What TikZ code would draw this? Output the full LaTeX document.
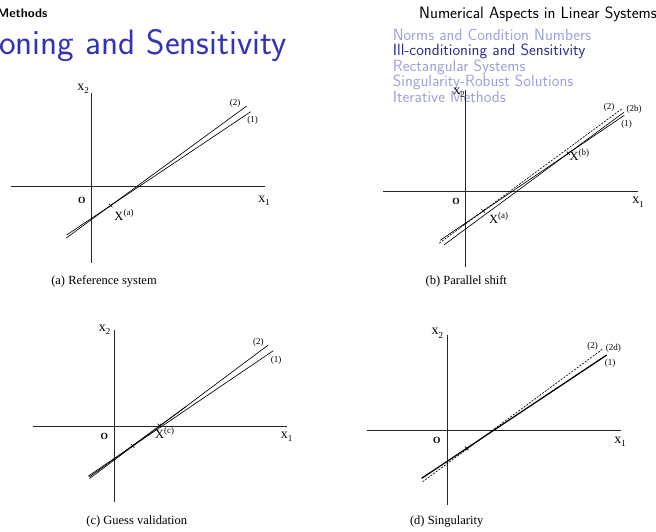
\documentclass[tikz,border=0pt]{standalone}
\usepackage{fontspec}
\newfontfamily\figfont{Liberation Serif}
\definecolor{struct}{RGB}{51,51,179}
\definecolor{cursec}{RGB}{45,45,150}
\definecolor{shadesec}{RGB}{160,160,216}
\tikzset{
  ax/.style={line width=0.75pt, black!85},
  ln/.style={line width=0.65pt},
  dl/.style={line width=0.65pt, dash pattern=on 2pt off 1.3pt},
  lab/.style={font=\figfont\fontsize{9}{9}\selectfont, inner sep=0pt},
  axl/.style={font=\figfont\fontsize{14}{14}\selectfont, inner sep=0pt},
  ptl/.style={font=\figfont\fontsize{12.5}{12}\selectfont, inner sep=0pt},
  captxt/.style={font=\figfont\fontsize{12.5}{14}\selectfont, inner sep=0pt},
  orig/.style={font=\figfont\bfseries\fontsize{9.5}{10}\selectfont, inner sep=0pt},
  toc/.style={font=\sffamily\fontsize{16.3}{16}\selectfont, inner sep=0pt, anchor=base west},
  cross/.pic={\draw[line width=0.6pt] (-1.8,-1.8)--(1.8,1.8) (-1.8,1.8)--(1.8,-1.8);}
}
\newcommand\sbs[1]{\raisebox{-3.5pt}{\fontsize{9}{9}\selectfont #1}}
\newcommand\sps[1]{\raisebox{5pt}{\fontsize{9}{9}\selectfont #1}}
\begin{document}
\begin{tikzpicture}[x=1pt,y=-1pt]
\useasboundingbox (0,0) rectangle (656,531);
% ---------- headline and title ----------
\node[anchor=base west, inner sep=0pt, font=\sffamily\bfseries\fontsize{12.5}{13}\selectfont] (hleft) at (-3,17.3) {Methods};
\node[anchor=base west, inner sep=0pt, font=\sffamily\fontsize{16.4}{16}\selectfont] (hright) at (419,18.3) {Numerical Aspects in Linear Systems};
\node[anchor=base west, inner sep=0pt, text=struct, font=\sffamily\fontsize{35.3}{38}\selectfont] (title) at (-1,54.5) {oning and Sensitivity};
\node[toc, text=shadesec] (s1) at (392.7,40) {Norms and Condition Numbers};
\node[toc, text=cursec] (s2) at (392.7,55.7) {Ill-conditioning and Sensitivity};
\node[toc, text=shadesec] (s3) at (392.7,71.2) {Rectangular Systems};
\node[toc, text=shadesec] (s4) at (392.7,86.7) {Singularity-Robust Solutions};
\node[toc, text=shadesec] (s5) at (392.7,102) {Iterative Methods};

% ---------- panel (a) ----------
\coordinate (aYt) at (91.7,92.7); \coordinate (aYb) at (91.7,262.7);
\coordinate (aXl) at (10.7,186.7); \coordinate (aXr) at (265,186.7);
\draw[ax] (aYt) -- (aYb);
\draw[ax] (aXl) -- (aXr);
\coordinate (aP) at (110.7,205.5);
\coordinate (a1s) at (66.5,235.1); \coordinate (a1e) at (250.7,111.7);
\coordinate (a2s) at (66,238.2);   \coordinate (a2e) at (246.7,106);
\draw[ln] (a1s) -- (a1e);
\draw[ln] (a2s) -- (a2e);
\pic at (aP) {cross};
\node[axl] (ax2) at (83,89) {x\sbs{2}};
\node[axl] (ax1) at (264,201) {x\sbs{1}};
\node[orig] (aO) at (81.7,200.5) {O};
\node[lab] (al2) at (235,103.5) {(2)};
\node[lab] (al1) at (252.7,120) {(1)};
\node[ptl] (aXa) at (124,214.5) {X\sps{(a)}};
\node[captxt] (acap) at (104,281) {(a) Reference system};

% ---------- panel (b) ----------
\coordinate (bYt) at (465.5,90); \coordinate (bYb) at (465.5,266.7);
\coordinate (bXl) at (383,191); \coordinate (bXr) at (638,191);
\draw[ax] (bYt) -- (bYb);
\draw[ax] (bXl) -- (bXr);
\coordinate (bPa) at (483.3,211); \coordinate (bPb) at (568.3,153.3);
\coordinate (b1s) at (440,240.4); \coordinate (b1e) at (624.3,115.3);
\coordinate (b2s) at (439.3,243.2); \coordinate (b2e) at (621.7,109);
\coordinate (b3s) at (444,244.9); \coordinate (b3e) at (624,112.3);
\draw[ln] (b1s) -- (b1e);
\draw[dl] (b2s) -- (b2e);
\draw[ln] (b3s) -- (b3e);
\pic at (bPa) {cross};
\pic at (bPb) {cross};
\node[axl] (bx2) at (459,93) {x\sbs{2}};
\node[axl] (bx1) at (638,202.5) {x\sbs{1}};
\node[orig] (bO) at (456,201.7) {O};
\node[lab] (bl2) at (609,107.7) {(2)};
\node[lab] (bl2b) at (634,109) {(2b)};
\node[lab] (bl1) at (626.7,124.3) {(1)};
\node[ptl] (bXa) at (498.7,217.5) {X\sps{(a)}};
\node[ptl] (bXb) at (579.3,155) {X\sps{(b)}};
\node[captxt] (bcap) at (466.3,281) {(b) Parallel shift};

% ---------- panel (c) ----------
\coordinate (cYt) at (114.3,330); \coordinate (cYb) at (114.3,501.7);
\coordinate (cXl) at (32.7,426); \coordinate (cXr) at (287.3,426);
\draw[ax] (cYt) -- (cYb);
\draw[ax] (cXl) -- (cXr);
\coordinate (cP) at (132.7,446); \coordinate (cPc) at (159.3,425.5);
\coordinate (c1s) at (88.3,476.1); \coordinate (c1e) at (273.3,350.7);
\coordinate (c2s) at (89.5,478.5); \coordinate (c2e) at (268.3,345);
\coordinate (c3s) at (89,477.2); \coordinate (c3e) at (186,406.7);
\draw[ln] (c1s) -- (c1e);
\draw[ln] (c2s) -- (c2e);
\draw[ln] (c3s) -- (c3e);
\pic at (cP) {cross};
\pic at (cPc) {cross};
\node[axl] (cx2) at (104.5,330) {x\sbs{2}};
\node[axl] (cx1) at (286.7,437) {x\sbs{1}};
\node[orig] (cO) at (104.3,436.7) {O};
\node[lab] (cl2) at (258.3,342.7) {(2)};
\node[lab] (cl1) at (276,360) {(1)};
\node[ptl] (cXc) at (164.7,432.8) {X\sps{(c)}};
\node[captxt] (ccap) at (136.7,521) {(c) Guess validation};

% ---------- panel (d) ----------
\coordinate (dYt) at (447.3,335); \coordinate (dYb) at (447.3,505);
\coordinate (dXl) at (366.7,430); \coordinate (dXr) at (620.7,430);
\draw[ax] (dYt) -- (dYb);
\draw[ax] (dXl) -- (dXr);
\coordinate (d1s) at (421.7,478.3); \coordinate (d1e) at (606.7,355);
\coordinate (d2s) at (422.7,481.7); \coordinate (d2e) at (602.7,349);
\draw[line width=1.3pt] (d1s) -- (d1e);
\draw[dl] (d2s) -- (d2e);
\pic at (466.7,448.3) {cross};
\node[axl] (dx2) at (437.3,333.3) {x\sbs{2}};
\node[axl] (dx1) at (620,441.7) {x\sbs{1}};
\node[orig] (dO) at (436.7,440) {O};
\node[lab] (dl2) at (592.7,346) {(2)};
\node[lab] (dl2d) at (613.3,348.3) {(2d)};
\node[lab] (dl1) at (610,363.3) {(1)};
\node[captxt] (dcap) at (446.7,521.7) {(d) Singularity};
\end{tikzpicture}
\end{document}
